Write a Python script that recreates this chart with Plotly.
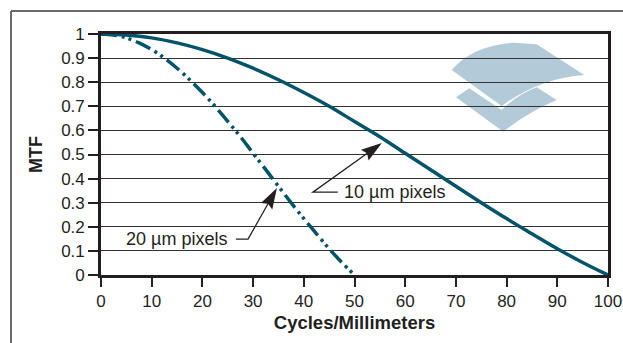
import math
import plotly.graph_objects as go

# Data
freq_10 = [0, 5, 10, 15, 20, 25, 30, 35, 40, 45, 50, 55, 60, 65, 70, 75, 80, 85, 90, 95, 100]
mtf_10 = [1.0, 0.996, 0.984, 0.963, 0.935, 0.90, 0.858, 0.81, 0.757, 0.70, 0.637,
          0.574, 0.505, 0.437, 0.368, 0.30, 0.234, 0.171, 0.109, 0.052, 0.0]
freq_20 = [0, 2.5, 5, 7.5, 10, 12.5, 15, 17.5, 20, 22.5, 25, 27.5, 30, 32.5, 35, 37.5, 40, 42.5, 45, 47.5, 50]
mtf_20 = [1.0, 0.996, 0.984, 0.963, 0.935, 0.90, 0.858, 0.81, 0.757, 0.70, 0.637,
          0.574, 0.505, 0.437, 0.368, 0.30, 0.234, 0.171, 0.109, 0.052, 0.0]
x_ticks = [0, 10, 20, 30, 40, 50, 60, 70, 80, 90, 100]
y_ticks = [0, 0.1, 0.2, 0.3, 0.4, 0.5, 0.6, 0.7, 0.8, 0.9, 1]
y_tick_text = ["0", "0.1", "0.2", "0.3", "0.4", "0.5", "0.6", "0.7", "0.8", "0.9", "1"]

# label anchor points (data units): tip, bend, text
lbl10 = dict(text="10 µm pixels", tip=(55.4, 0.548), bend=(41.8, 0.344), seg_end=46.7, tx=47.6, anchor="left")
lbl20 = dict(text="20 µm pixels", tip=(34.7, 0.361), bend=(29.0, 0.149), seg_end=26.6, tx=25.2, anchor="right")

W, H = 623, 343
L, R, T, B = 101, 15, 34, 68
PW, PH = W - L - R, H - T - B
XR, YR = (0, 100), (0, 1)

LINE = "#00546a"
FONT = "Arial, Liberation Sans, sans-serif"
INK = "#231f20"

fig = go.Figure()
fig.add_trace(go.Scatter(x=freq_10, y=mtf_10, mode="lines", name="10 µm pixels",
                         line=dict(color=LINE, width=3.5), line_shape="spline"))
fig.add_trace(go.Scatter(x=freq_20, y=mtf_20, mode="lines", name="20 µm pixels",
                         line=dict(color=LINE, width=3.5, dash="16px,5px,3px,4px,3px,5px"),
                         line_shape="spline"))


def P(px, py):
    return (px - L) / PW, (T + PH - py) / PH


def D2px(x, y):
    return (L + (x - XR[0]) / (XR[1] - XR[0]) * PW, T + PH - (y - YR[0]) / (YR[1] - YR[0]) * PH)


def path(cmds, close=True):
    out = []
    for c in cmds:
        op = c[0]
        coords = []
        for (px, py) in c[1:]:
            a, b = P(px, py)
            coords.append(f"{a:.4f},{b:.4f}")
        out.append(op + " " + " ".join(coords))
    return " ".join(out) + (" Z" if close else "")


logo_col = "#b3cbd8"
top_piece = path([
    ("M", (451.7, 70)),
    ("Q", (472, 46), (513, 42.7)),
    ("L", (536.7, 44.3)),
    ("L", (584.3, 75)),
    ("Q", (540, 78), (501.7, 106)),
])
bottom_piece = path([
    ("M", (456, 97.3)),
    ("L", (469.3, 88.3)),
    ("L", (501.7, 110)),
    ("Q", (518, 94), (536.7, 87.3)),
    ("L", (556.7, 100)),
    ("Q", (528, 112), (503.3, 131.7)),
])

shapes = [
    dict(type="path", xref="paper", yref="paper", path=top_piece, fillcolor=logo_col,
         line=dict(width=0), layer="below"),
    dict(type="path", xref="paper", yref="paper", path=bottom_piece, fillcolor=logo_col,
         line=dict(width=0), layer="below"),
]

# outer frame (top and left visible)
fx0, fy0 = P(11, 11)
fx1, _ = P(640, 11)
_, fy1 = P(11, 360)
shapes.append(dict(type="line", xref="paper", yref="paper", x0=fx0, y0=fy0, x1=fx1, y1=fy0,
                   line=dict(color="#6a6a6a", width=2)))
shapes.append(dict(type="line", xref="paper", yref="paper", x0=fx0, y0=fy0, x1=fx0, y1=fy1,
                   line=dict(color="#6a6a6a", width=2)))

annotations = []
for lb in (lbl10, lbl20):
    tx, ty = D2px(*lb["tip"])
    bx, by = D2px(*lb["bend"])
    sx, _ = D2px(lb["seg_end"], lb["bend"][1])
    dx, dy = tx - bx, ty - by
    n = math.hypot(dx, dy)
    ux, uy = dx / n, dy / n
    nx, ny = -uy, ux
    hl, hw, notch = 21, 6.5, 3.0
    base_x, base_y = tx - ux * hl, ty - uy * hl
    head = path([
        ("M", (tx, ty)),
        ("L", (base_x + nx * hw, base_y + ny * hw)),
        ("L", (base_x + ux * notch, base_y + uy * notch)),
        ("L", (base_x - nx * hw, base_y - ny * hw)),
    ])
    shapes.append(dict(type="path", xref="paper", yref="paper", path=head, fillcolor=INK,
                       line=dict(width=0)))
    shaft = path([("M", (sx, by)), ("L", (bx, by)), ("L", (base_x + ux * 4, base_y + uy * 4))], close=False)
    shapes.append(dict(type="path", xref="paper", yref="paper", path=shaft,
                       line=dict(color=INK, width=1.3)))
    annotations.append(dict(x=lb["tx"], y=lb["bend"][1], xref="x", yref="y", text=lb["text"],
                            showarrow=False, xanchor=lb["anchor"], yanchor="middle",
                            font=dict(size=18, color=INK, family=FONT)))

axis_common = dict(showline=True, linewidth=2.6, linecolor=INK, mirror=True,
                   ticks="outside", tickcolor=INK, tickwidth=1.5, automargin=False,
                   tickfont=dict(size=17, color=INK, family=FONT), zeroline=False)

fig.update_layout(
    width=W, height=H,
    margin=dict(l=L, r=R, t=T, b=B),
    paper_bgcolor="white", plot_bgcolor="white",
    showlegend=False,
    font=dict(family=FONT, color=INK),
    xaxis=dict(range=list(XR), tickvals=x_ticks, ticklen=9, showgrid=False,
               title=dict(text="<b>Cycles/Millimeters</b>", font=dict(size=18.5, family=FONT), standoff=6),
               **axis_common),
    yaxis=dict(range=list(YR), tickvals=y_ticks, ticktext=y_tick_text, ticklen=10,
               showgrid=True, gridcolor="#333333", gridwidth=1.2,
               title=dict(text="<b>MTF</b>", font=dict(size=18, family=FONT), standoff=14),
               **axis_common),
    shapes=shapes,
    annotations=annotations,
)

fig.write_html("out.html")
